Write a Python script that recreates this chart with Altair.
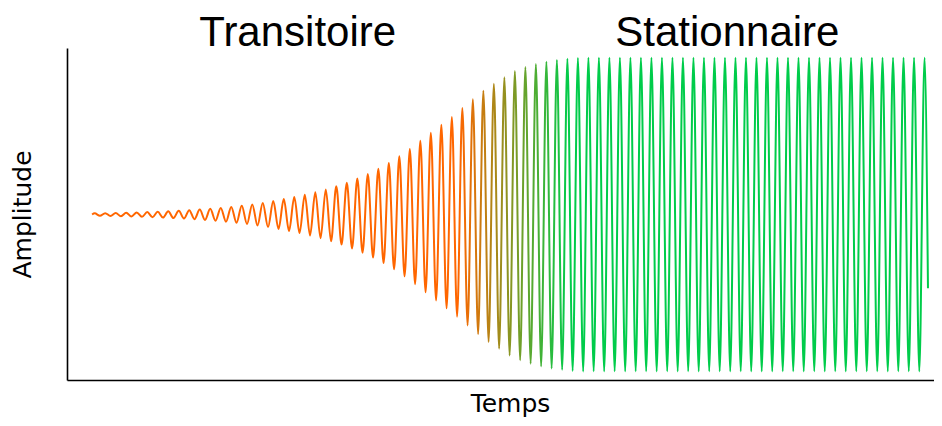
import math
import altair as alt
import pandas as pd

# ---- annotation labels (x position in Temps units) ----
phase_labels = ["Transitoire", "Stationnaire"]
phase_label_temps = [123.0, 380.0]

# ---- signal ----
period = 2 * math.pi          # one oscillation of the signal, in Temps units
start_temps = 0.0
start_amplitude = 0.0
end_temps = 500.0
end_amplitude = -0.47

# successive extrema (peak, trough, peak, ...) of the growing transient
transient_extrema = [
    0.0077, -0.0083, 0.0089, -0.0095, 0.0102, -0.0110, 0.0118, -0.0126, 0.0136, -0.0146,
    0.0156, -0.0168, 0.0180, -0.0193, 0.0208, -0.0223, 0.0239, -0.0257, 0.0276, -0.0296,
    0.0318, -0.0341, 0.0366, -0.0393, 0.0422, -0.0453, 0.0486, -0.0522, 0.0560, -0.0601,
    0.0646, -0.0693, 0.0744, -0.0799, 0.0857, -0.0920, 0.0988, -0.1049, 0.1114, -0.1183,
    0.1256, -0.1334, 0.1417, -0.1505, 0.1598, -0.1697, 0.1802, -0.1914, 0.2033, -0.2159,
    0.2293, -0.2435, 0.2586, -0.2746, 0.2916, -0.3097, 0.3289, -0.3493, 0.3710, -0.3940,
    0.4184, -0.4443, 0.470, -0.496, 0.522, -0.548, 0.573, -0.598, 0.622, -0.651,
    0.679, -0.707, 0.735, -0.762, 0.790, -0.812, 0.834, -0.855, 0.875, -0.898,
    0.915, -0.929, 0.941, -0.951, 0.960, -0.968, 0.975, -0.981, 0.986, -0.990,
    0.994, -0.997, 0.999,
]

# successive extrema of the stationary regime
steady_extrema = [
    -1.0, 1.0, -1.0, 1.0, -1.0, 1.0, -1.0, 1.0, -1.0, 1.0,
    -1.0, 1.0, -1.0, 1.0, -1.0, 1.0, -1.0, 1.0, -1.0, 1.0,
    -1.0, 1.0, -1.0, 1.0, -1.0, 1.0, -1.0, 1.0, -1.0, 1.0,
    -1.0, 1.0, -1.0, 1.0, -1.0, 1.0, -1.0, 1.0, -1.0, 1.0,
    -1.0, 1.0, -1.0, 1.0, -1.0, 1.0, -1.0, 1.0, -1.0, 1.0,
    -1.0, 1.0, -1.0, 1.0, -1.0, 1.0, -1.0, 1.0, -1.0, 1.0,
    -1.0, 1.0, -1.0, 1.0, -1.0, 1.0,
]

# ---- colours ----
color_transient = "#ff6600"
color_steady = "#00cc4a"

extrema = transient_extrema + steady_extrema
temps = [start_temps] + [(k + 0.5) * period / 2 for k in range(len(extrema))] + [end_temps]
amplitude = [start_amplitude] + extrema + [end_amplitude]

signal = pd.DataFrame({"temps": temps, "amplitude": amplitude})
labels = pd.DataFrame({"temps": phase_label_temps, "label": phase_labels})

x_scale = alt.Scale(domain=[-15, 503.6], nice=False, zero=False)
y_scale = alt.Scale(domain=[-1.055, 1.062], nice=False, zero=False)

gradient = alt.Gradient(
    gradient="linear",
    stops=[
        alt.GradientStop(color=color_transient, offset=0),
        alt.GradientStop(color=color_transient, offset=0.438),
        alt.GradientStop(color=color_steady, offset=0.571),
        alt.GradientStop(color=color_steady, offset=1),
    ],
    x1=0, x2=1, y1=0, y2=0,
)

line = alt.Chart(signal).mark_line(
    interpolate="monotone", strokeWidth=2, color=gradient
).encode(
    x=alt.X(
        "temps:Q", scale=x_scale,
        axis=alt.Axis(
            title="Temps", labels=False, ticks=False, grid=False,
            domainColor="black", domainWidth=1.6,
            titleFont="DejaVu Sans", titleFontSize=25, titleFontWeight="normal",
            titleColor="black", titlePadding=11, titleX=443,
        ),
    ),
    y=alt.Y(
        "amplitude:Q", scale=y_scale,
        axis=alt.Axis(
            title="Amplitude", labels=False, ticks=False, grid=False,
            domainColor="black", domainWidth=1.6,
            titleFont="DejaVu Sans", titleFontSize=25, titleFontWeight="normal",
            titleColor="black", titlePadding=32,
        ),
    ),
)

text = alt.Chart(labels).mark_text(
    font="Liberation Sans", fontSize=42, baseline="alphabetic", align="center", color="black"
).encode(
    x=alt.X("temps:Q", scale=x_scale),
    y=alt.value(-2),
    text="label:N",
)

chart = alt.layer(line, text).properties(
    width=867,
    height=332,
    autosize=alt.AutoSizeParams(type="none"),
    padding={"left": 59, "top": 40, "right": 0, "bottom": 38},
).configure_view(strokeWidth=0)

chart.save("out.html", embed_options={"renderer": "svg", "actions": False})
